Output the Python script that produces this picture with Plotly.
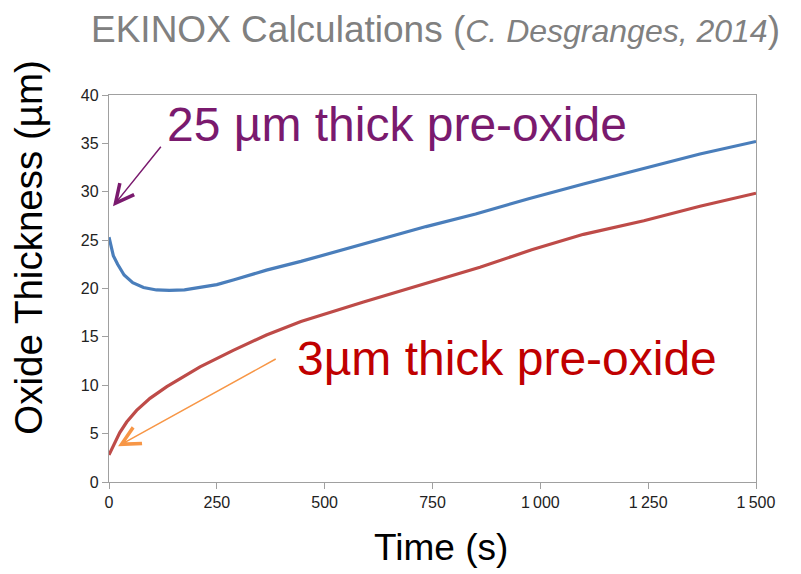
import plotly.graph_objects as go

# ---- data ----
time_25 = [0, 5, 10, 20, 35, 55, 80, 110, 140, 175, 210, 250, 290, 365, 445, 560,
           650, 735, 850, 975, 1100, 1240, 1370, 1500]
thick_25 = [25.3, 24.2, 23.4, 22.5, 21.4, 20.6, 20.1, 19.85, 19.8, 19.85, 20.1, 20.4,
            20.9, 21.9, 22.8, 24.2, 25.3, 26.4, 27.7, 29.3, 30.8, 32.4, 33.9, 35.2]

time_3 = [0, 5, 14, 25, 41, 64, 95, 134, 211, 288, 365, 445, 590, 735, 860, 980,
          1100, 1240, 1370, 1500]
thick_3 = [2.8, 3.3, 4.0, 5.1, 6.2, 7.4, 8.65, 9.85, 11.9, 13.6, 15.2, 16.6, 18.6,
           20.5, 22.2, 24.0, 25.6, 27.0, 28.5, 29.85]

x_ticks = [0, 250, 500, 750, 1000, 1250, 1500]
x_tick_labels = ["0", "250", "500", "750", "1\u2009000", "1\u2009250", "1\u2009500"]
y_ticks = [0, 5, 10, 15, 20, 25, 30, 35, 40]

# arrow (tip / tail) positions in data units
arrow_25_tip = (9.3, 28.5)
arrow_25_tail = (123, 34.8)
arrow_3_tip = (21, 3.7)
arrow_3_tail = (390, 12.8)

BLUE = "#4A7EBB"
RED = "#BE4B48"
PURPLE = "#7A1A6E"
DARKRED = "#C00000"
ORANGE = "#F79646"
GREY = "#808080"
AXIS = "#A0A0A0"
FONT = "Liberation Sans, Arial, sans-serif"

fig = go.Figure()
fig.add_trace(go.Scatter(x=time_25, y=thick_25, mode="lines",
                         line=dict(color=BLUE, width=3.2),
                         showlegend=False))
fig.add_trace(go.Scatter(x=time_3, y=thick_3, mode="lines",
                         line=dict(color=RED, width=3.2),
                         showlegend=False))

# page body has an 8px margin: figure is drawn at (8, 8)
fig.update_layout(
    width=793, height=566,
    margin=dict(l=101, r=45, t=87, b=92),
    paper_bgcolor="white", plot_bgcolor="white",
    font=dict(family=FONT, color="#222222"),
    showlegend=False,
)
fig.update_xaxes(range=[0, 1500], tickvals=x_ticks, ticktext=x_tick_labels,
                 showgrid=False, zeroline=False, showline=True, linecolor=AXIS,
                 linewidth=1.3, mirror=True, ticks="outside", ticklen=6,
                 tickcolor=AXIS, tickfont=dict(size=16, color="#222222"))
fig.update_yaxes(range=[0, 40], tickvals=y_ticks, showgrid=False, zeroline=False,
                 showline=True, linecolor=AXIS, linewidth=1.3, mirror=True,
                 ticks="outside", ticklen=6, tickcolor=AXIS,
                 tickfont=dict(size=16, color="#222222"))

ann = []
# title
ann.append(dict(
    text="EKINOX Calculations (<i><span style='font-size:32px'>C. Desgranges, 2014</span></i>)",
    xref="paper", yref="paper", x=0.505, y=1.17, xanchor="center", yanchor="middle",
    showarrow=False, font=dict(size=37, color=GREY, family=FONT)))
# axis titles
ann.append(dict(text="Oxide Thickness (µm)", xref="paper", yref="paper",
                x=-0.124, y=0.605, textangle=-90, xanchor="center", yanchor="middle",
                showarrow=False, font=dict(size=38.5, color="black", family=FONT)))
ann.append(dict(text="Time (s)", xref="paper", yref="paper",
                x=0.513, y=-0.17, xanchor="center", yanchor="middle",
                showarrow=False, font=dict(size=37, color="black", family=FONT)))
# labels
ann.append(dict(text="25 µm thick pre-oxide", xref="paper", yref="paper",
                x=0.086, y=0.925, xanchor="left", yanchor="middle", bgcolor="white",
                showarrow=False, font=dict(size=48, color=PURPLE, family=FONT)))
ann.append(dict(text="3µm thick pre-oxide", xref="paper", yref="paper",
                x=0.288, y=0.32, xanchor="left", yanchor="middle",
                showarrow=False, font=dict(size=48, color=DARKRED, family=FONT)))
# arrows
ann.append(dict(text="", x=arrow_25_tip[0], y=arrow_25_tip[1], xref="x", yref="y",
                ax=arrow_25_tail[0], ay=arrow_25_tail[1], axref="x", ayref="y",
                showarrow=True, arrowhead=5, arrowsize=2.4, arrowwidth=1.5,
                arrowcolor=PURPLE, standoff=0, startstandoff=0))
ann.append(dict(text="", x=arrow_3_tip[0], y=arrow_3_tip[1], xref="x", yref="y",
                ax=arrow_3_tail[0], ay=arrow_3_tail[1], axref="x", ayref="y",
                showarrow=True, arrowhead=5, arrowsize=2.4, arrowwidth=1.5,
                arrowcolor=ORANGE, standoff=0, startstandoff=0))
fig.update_layout(annotations=ann)

fig.write_html("out.html")
